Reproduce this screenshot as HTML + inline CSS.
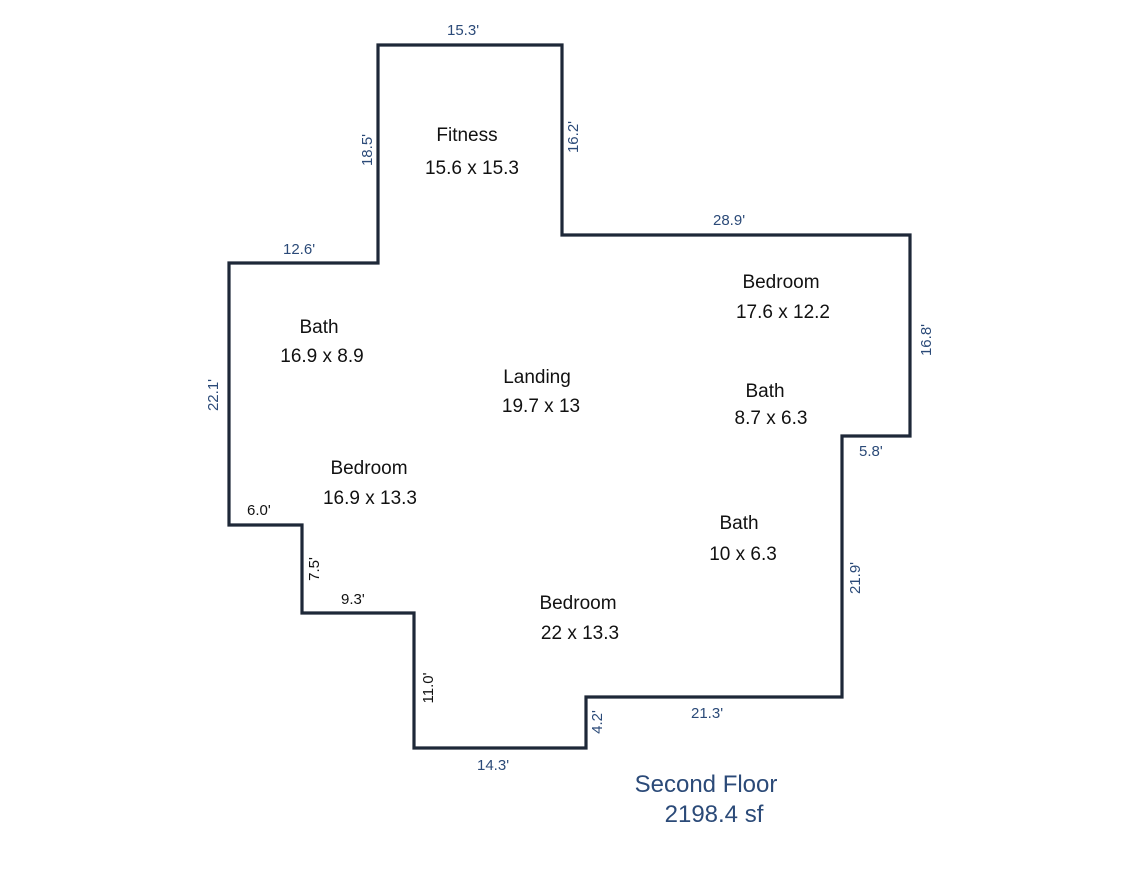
<!DOCTYPE html>
<html><head><meta charset="utf-8"><style>
html,body{margin:0;padding:0;background:#fff;}
svg{display:block;}
text{font-family:"Liberation Sans",Arial,sans-serif;}
.d{fill:#2b4a78;font-size:15px;}
.k{fill:#111;font-size:15px;}
.r{fill:#111;font-size:19px;text-anchor:middle;}
</style></head><body>
<svg width="1124" height="885" viewBox="0 0 1124 885" xmlns="http://www.w3.org/2000/svg">
<polygon points="378,45 562,45 562,235 910,235 910,436 842,436 842,697 586,697 586,748 414,748 414,613 302,613 302,525 229,525 229,263 378,263" fill="none" stroke="#1e2838" stroke-width="3.2"/>
<text class="d" x="447" y="35">15.3'</text>
<text class="d" x="713" y="225">28.9'</text>
<text class="d" x="283" y="254">12.6'</text>
<text class="d" x="859" y="456">5.8'</text>
<text class="d" x="691" y="718">21.3'</text>
<text class="d" x="477" y="770">14.3'</text>
<text class="k" x="247" y="515">6.0'</text>
<text class="k" x="341" y="604">9.3'</text>
<text class="d" transform="translate(372,150) rotate(-90)" text-anchor="middle">18.5'</text>
<text class="d" transform="translate(578,137) rotate(-90)" text-anchor="middle">16.2'</text>
<text class="d" transform="translate(931,340) rotate(-90)" text-anchor="middle">16.8'</text>
<text class="d" transform="translate(218,395) rotate(-90)" text-anchor="middle">22.1'</text>
<text class="k" transform="translate(319,569) rotate(-90)" text-anchor="middle">7.5'</text>
<text class="k" transform="translate(433,688) rotate(-90)" text-anchor="middle">11.0'</text>
<text class="d" transform="translate(602,722) rotate(-90)" text-anchor="middle">4.2'</text>
<text class="d" transform="translate(860,578) rotate(-90)" text-anchor="middle">21.9'</text>
<text class="r" x="467" y="141">Fitness</text>
<text class="r" x="472" y="174">15.6 x 15.3</text>
<text class="r" x="781" y="288">Bedroom</text>
<text class="r" x="783" y="318">17.6 x 12.2</text>
<text class="r" x="319" y="333">Bath</text>
<text class="r" x="322" y="362">16.9 x 8.9</text>
<text class="r" x="537" y="383">Landing</text>
<text class="r" x="541" y="412">19.7 x 13</text>
<text class="r" x="765" y="397">Bath</text>
<text class="r" x="771" y="424">8.7 x 6.3</text>
<text class="r" x="369" y="474">Bedroom</text>
<text class="r" x="370" y="504">16.9 x 13.3</text>
<text class="r" x="739" y="529">Bath</text>
<text class="r" x="743" y="560">10 x 6.3</text>
<text class="r" x="578" y="609">Bedroom</text>
<text class="r" x="580" y="639">22 x 13.3</text>
<text x="706" y="792" style="fill:#2b4a78;font-size:24px" text-anchor="middle">Second Floor</text>
<text x="714" y="822" style="fill:#2b4a78;font-size:24px" text-anchor="middle">2198.4 sf</text>
</svg>
</body></html>
